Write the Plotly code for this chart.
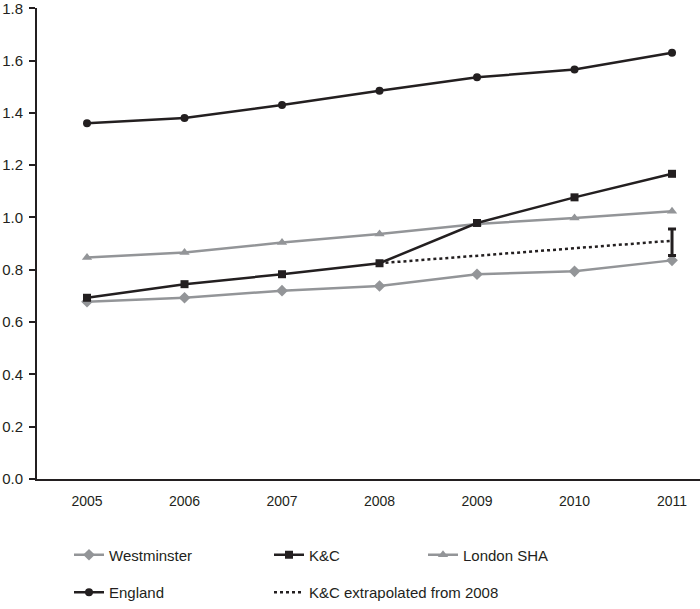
import plotly.graph_objects as go

years = [2005, 2006, 2007, 2008, 2009, 2010, 2011]
westminster = [0.678, 0.693, 0.720, 0.738, 0.783, 0.794, 0.836]
kc = [0.693, 0.745, 0.783, 0.825, 0.979, 1.077, 1.167]
london_sha = [0.847, 0.866, 0.904, 0.937, 0.975, 0.998, 1.024]
england = [1.360, 1.380, 1.430, 1.485, 1.536, 1.566, 1.630]
extrap_years = [2008, 2009, 2010, 2011]
kc_extrap = [0.825, 0.854, 0.883, 0.911]
err_year = [2011]
err_value = [0.911]
err_plus = [0.045]
err_minus = [0.056]
y_ticks = [0.0, 0.2, 0.4, 0.6, 0.8, 1.0, 1.2, 1.4, 1.6, 1.8]

BLACK = "#231f20"
GREY = "#939598"
FONT = "Liberation Sans, Arial, sans-serif"

fig = go.Figure()
fig.add_trace(go.Scatter(x=years, y=westminster, name="Westminster", mode="lines+markers",
                         line=dict(color=GREY, width=2.5), marker=dict(symbol="diamond", size=9, color=GREY),
                         legend="legend", legendgroup="w", legendrank=1))
fig.add_trace(go.Scatter(x=years, y=london_sha, name="London SHA", mode="lines+markers",
                         line=dict(color=GREY, width=2.5), marker=dict(symbol="triangle-up", size=9, color=GREY),
                         legend="legend3", legendgroup="l", legendrank=1))
fig.add_trace(go.Scatter(x=extrap_years, y=kc_extrap, name="K&C extrapolated from 2008", mode="lines",
                         line=dict(color=BLACK, width=2.5, dash="dot"),
                         legend="legend2", legendgroup="x", legendrank=2))
fig.add_trace(go.Scatter(x=err_year, y=err_value, mode="markers", showlegend=False,
                         marker=dict(size=1, color="rgba(0,0,0,0)"),
                         error_y=dict(type="data", symmetric=False, array=err_plus, arrayminus=err_minus,
                                      color=BLACK, thickness=3, width=4)))
fig.add_trace(go.Scatter(x=years, y=kc, name="K&C", mode="lines+markers",
                         line=dict(color=BLACK, width=2.5), marker=dict(symbol="square", size=8, color=BLACK),
                         legend="legend2", legendgroup="k", legendrank=1))
fig.add_trace(go.Scatter(x=years, y=england, name="England", mode="lines+markers",
                         line=dict(color=BLACK, width=2.5), marker=dict(symbol="circle", size=8, color=BLACK),
                         legend="legend", legendgroup="e", legendrank=2))

leg_common = dict(orientation="v", yanchor="top", xanchor="left", font=dict(family=FONT, size=15, color=BLACK),
                  bgcolor="rgba(0,0,0,0)", tracegroupgap=15, traceorder="grouped")
leg_y = (483 - 543) / 475

fig.update_layout(
    width=700, height=609,
    margin=dict(l=37, r=0, t=8, b=126),
    paper_bgcolor="white", plot_bgcolor="white",
    font=dict(family=FONT, size=15, color=BLACK),
    xaxis=dict(range=[2004.487, 2011.287], tickvals=years, ticktext=[str(y) for y in years],
               showgrid=False, zeroline=False, showline=True, linecolor=BLACK, linewidth=2,
               ticks="", ticklabelstandoff=8, tickfont=dict(size=14), automargin=False),
    yaxis=dict(range=[0, 1.801], tickvals=y_ticks, tickformat=".1f", showgrid=False, zeroline=False,
               showline=True, linecolor=BLACK, linewidth=2, ticks="outside", ticklen=6, tickwidth=2,
               tickcolor=BLACK, tickfont=dict(size=15), automargin=False, ticklabeloverflow="allow",
               ticklabelstandoff=3),
    legend=dict(x=(69 - 37) / 663, y=leg_y, **leg_common),
    legend2=dict(x=(269 - 37) / 663, y=leg_y, **leg_common),
    legend3=dict(x=(423 - 37) / 663, y=leg_y, **leg_common),
)

fig.write_html("out.html", config={"displayModeBar": False},
               post_script="document.body.style.margin='0';document.body.style.overflow='hidden';")
